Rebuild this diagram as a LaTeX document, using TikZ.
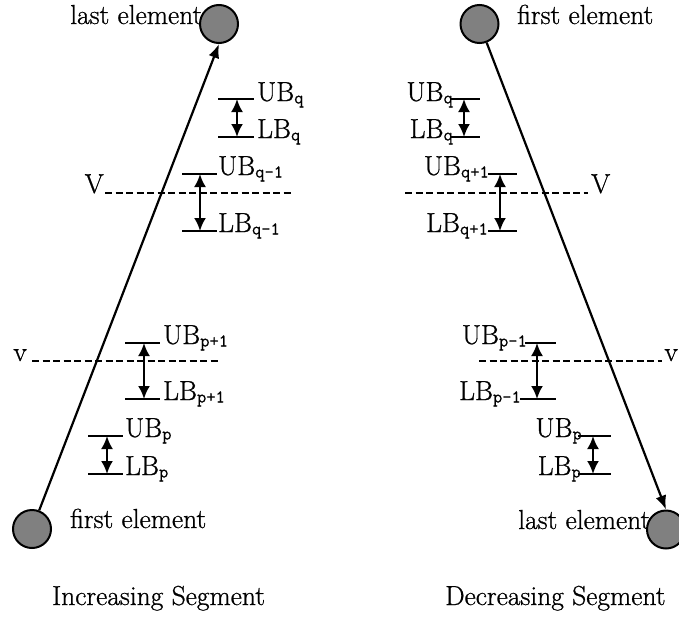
\documentclass[tikz,border=0pt]{standalone}
\usepackage{fontspec}
\setmainfont{Latin Modern Roman}[FakeBold=0.8]
\setmonofont{Latin Modern Mono}[FakeBold=0.5]
\usetikzlibrary{arrows.meta}
\newcommand\sbx[1]{\raisebox{-2.5pt}{\fontsize{18}{18}\selectfont\ttfamily #1}}
\tikzset{
 elem/.style={circle, draw, line width=2pt, fill=black!50, minimum size=38pt, inner sep=0pt},
 txt/.style={inner sep=0pt, font=\fontsize{27.5}{32}\selectfont},
 bound/.style={line width=2.6pt},
 boundarrow/.style={line width=2.2pt, {Latex[length=13pt,width=12pt]}-{Latex[length=13pt,width=12pt]}},
 mainarrow/.style={line width=2.2pt, -{Latex[length=14pt,width=11pt]}},
 level/.style={line width=1.5pt, dash pattern=on 7pt off 3.5pt},
}
\begin{document}
\begin{tikzpicture}[x=1pt,y=-1pt]
\useasboundingbox (0,0) rectangle (679,616);
\clip (0,0) rectangle (679,616);
% ---------- left: increasing segment ----------
\node[txt, anchor=base west] (lastL) at (70,24) {last element};
\node[txt, anchor=base west] (firstL) at (70,528) {first element};
\node[elem] (cTopL) at (219,24) {};
\node[elem] (cBotL) at (32,529) {};
\draw[mainarrow] (cBotL) -- (cTopL.south);
\node[txt, anchor=base west] (capL) at (52,605) {Increasing Segment};
% bounds q
\coordinate (uq1) at (218,99); \coordinate (uq2) at (254,99);
\coordinate (lq1) at (218,137); \coordinate (lq2) at (254,137);
\draw[bound] (uq1) -- (uq2); \draw[bound] (lq1) -- (lq2);
\coordinate (aq1) at (237,99); \coordinate (aq2) at (237,137);
\draw[boundarrow] (aq1) -- (aq2);
\node[txt, anchor=base west] (tUBq) at (257,101) {UB\sbx{q}};
\node[txt, anchor=base west] (tLBq) at (257,138) {LB\sbx{q}};
% bounds q-1
\coordinate (uqm1) at (182,174); \coordinate (uqm2) at (217,174);
\coordinate (lqm1) at (182,231); \coordinate (lqm2) at (217,231);
\draw[bound] (uqm1) -- (uqm2); \draw[bound] (lqm1) -- (lqm2);
\coordinate (aqm1) at (200,174); \coordinate (aqm2) at (200,231);
\draw[boundarrow] (aqm1) -- (aqm2);
\node[txt, anchor=base west] (tUBqm) at (218,175) {UB\sbx{q-1}};
\node[txt, anchor=base west] (tLBqm) at (218,232) {LB\sbx{q-1}};
% V level
\coordinate (VL1) at (105,193); \coordinate (VL2) at (293,193);
\draw[level] (VL1) -- (VL2);
\node[txt, anchor=base east] (tVL) at (104,193) {V};
% bounds p+1
\coordinate (upp1) at (125,343); \coordinate (upp2) at (160,343);
\coordinate (lpp1) at (125,399); \coordinate (lpp2) at (160,399);
\draw[bound] (upp1) -- (upp2); \draw[bound] (lpp1) -- (lpp2);
\coordinate (app1) at (144,343); \coordinate (app2) at (144,399);
\draw[boundarrow] (app1) -- (app2);
\node[txt, anchor=base west] (tUBpp) at (163,344) {UB\sbx{p+1}};
\node[txt, anchor=base west] (tLBpp) at (163,400) {LB\sbx{p+1}};
% v level
\coordinate (vL1) at (32,361); \coordinate (vL2) at (220,361);
\draw[level] (vL1) -- (vL2);
\node[txt, anchor=base east] (tvL) at (27,361) {v};
% bounds p
\coordinate (up1) at (88,436); \coordinate (up2) at (123,436);
\coordinate (lp1) at (88,474); \coordinate (lp2) at (123,474);
\draw[bound] (up1) -- (up2); \draw[bound] (lp1) -- (lp2);
\coordinate (ap1) at (107,436); \coordinate (ap2) at (107,474);
\draw[boundarrow] (ap1) -- (ap2);
\node[txt, anchor=base west] (tUBp) at (125,437) {UB\sbx{p}};
\node[txt, anchor=base west] (tLBp) at (125,475) {LB\sbx{p}};
% ---------- right: decreasing segment ----------
\node[txt, anchor=base west] (firstR) at (517,24) {first element};
\node[txt, anchor=base west] (lastR) at (518,529) {last element};
\node[elem] (cTopR) at (479.5,24) {};
\node[elem] (cBotR) at (666,529.5) {};
\draw[mainarrow] (cTopR) -- (cBotR.north);
\node[txt, anchor=base west] (capR) at (445,605) {Decreasing Segment};
% bounds q
\coordinate (Ruq1) at (450,99); \coordinate (Ruq2) at (480,99);
\coordinate (Rlq1) at (450,137); \coordinate (Rlq2) at (480,137);
\draw[bound] (Ruq1) -- (Ruq2); \draw[bound] (Rlq1) -- (Rlq2);
\coordinate (Raq1) at (464,99); \coordinate (Raq2) at (464,137);
\draw[boundarrow] (Raq1) -- (Raq2);
\node[txt, anchor=base east] (RtUBq) at (453,101) {UB\sbx{q}};
\node[txt, anchor=base east] (RtLBq) at (453,138) {LB\sbx{q}};
% bounds q+1
\coordinate (Ruqp1) at (488,174); \coordinate (Ruqp2) at (517,174);
\coordinate (Rlqp1) at (488,231); \coordinate (Rlqp2) at (517,231);
\draw[bound] (Ruqp1) -- (Ruqp2); \draw[bound] (Rlqp1) -- (Rlqp2);
\coordinate (Raqp1) at (500,174); \coordinate (Raqp2) at (500,231);
\draw[boundarrow] (Raqp1) -- (Raqp2);
\node[txt, anchor=base east] (RtUBqp) at (489,175) {UB\sbx{q+1}};
\node[txt, anchor=base east] (RtLBqp) at (488,232) {LB\sbx{q+1}};
% V level
\coordinate (VR1) at (405,193); \coordinate (VR2) at (588,193);
\draw[level] (VR1) -- (VR2);
\node[txt, anchor=base west] (tVR) at (591,193) {V};
% bounds p-1
\coordinate (Rupm1) at (525,343); \coordinate (Rupm2) at (556,343);
\coordinate (Rlpm1) at (520,399); \coordinate (Rlpm2) at (556,399);
\draw[bound] (Rupm1) -- (Rupm2); \draw[bound] (Rlpm1) -- (Rlpm2);
\coordinate (Rapm1) at (537,343); \coordinate (Rapm2) at (537,399);
\draw[boundarrow] (Rapm1) -- (Rapm2);
\node[txt, anchor=base east] (RtUBpm) at (527,344) {UB\sbx{p-1}};
\node[txt, anchor=base east] (RtLBpm) at (521,400) {LB\sbx{p-1}};
% v level
\coordinate (vR1) at (479,361); \coordinate (vR2) at (662,361);
\draw[level] (vR1) -- (vR2);
\node[txt, anchor=base east] (tvR) at (678,361) {v};
% bounds p
\coordinate (Rup1) at (578,436); \coordinate (Rup2) at (611,436);
\coordinate (Rlp1) at (578,474); \coordinate (Rlp2) at (611,474);
\draw[bound] (Rup1) -- (Rup2); \draw[bound] (Rlp1) -- (Rlp2);
\coordinate (Rap1) at (593,436); \coordinate (Rap2) at (593,474);
\draw[boundarrow] (Rap1) -- (Rap2);
\node[txt, anchor=base east] (RtUBp) at (582,437) {UB\sbx{p}};
\node[txt, anchor=base east] (RtLBp) at (581,475) {LB\sbx{p}};
\end{tikzpicture}
\end{document}
